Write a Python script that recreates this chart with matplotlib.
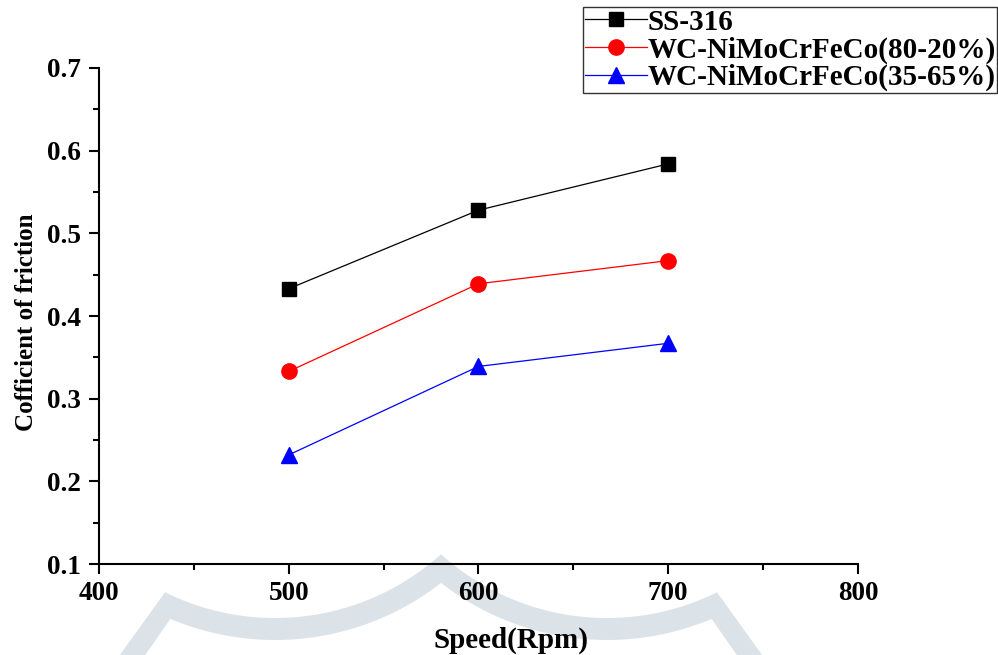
import matplotlib
matplotlib.use("Agg")
import matplotlib.pyplot as plt
import numpy as np
from matplotlib.ticker import MultipleLocator, FormatStrFormatter
from matplotlib.patches import Polygon

speed = [500, 600, 700]
ss316 = [0.433, 0.528, 0.584]
wc_80_20 = [0.333, 0.439, 0.467]
wc_35_65 = [0.232, 0.339, 0.367]
labels = ["SS-316", "WC-NiMoCrFeCo(80-20%)", "WC-NiMoCrFeCo(35-65%)"]

plt.rcParams['font.family'] = ['Liberation Serif', 'DejaVu Serif']
plt.rcParams['font.weight'] = 'bold'

W, H = 998, 655
fig = plt.figure(figsize=(W / 100, H / 100), dpi=100)

# --- decorative watermark (background, pixel coordinates overlay) ---
bg = fig.add_axes([0, 0, 1, 1], zorder=0)
bg.set_xlim(0, W)
bg.set_ylim(H, 0)
bg.axis('off')
wm_color = '#dce3e8'
axis_x, cy, r_top, r_bot, off = 441, 370, 248, 270, 166
for sgn in (-1, 1):
    cx = axis_x + sgn * off
    x_tip = axis_x + sgn * 276
    xs = np.linspace(x_tip, axis_x, 80)
    top = cy + np.sqrt(np.clip(r_top**2 - (xs - cx)**2, 0, None))
    bot = cy + np.sqrt(np.clip(r_bot**2 - (xs - cx)**2, 0, None))
    pts = np.vstack([np.column_stack([xs, top]), np.column_stack([xs[::-1], bot[::-1]])])
    bg.add_patch(Polygon(pts, closed=True, color=wm_color, lw=0))
    y_tip = top[0]
    y_in = bot[0]
    x_in = x_tip - sgn * 7
    x_out_bot = x_tip + sgn * 0.72 * (680 - y_tip)
    arm = [(x_tip, y_tip), (x_out_bot, 680), (x_out_bot - sgn * 26, 680),
           (x_in, y_in), (x_in, y_tip + 8)]
    bg.add_patch(Polygon(arm, closed=True, color=wm_color, lw=0))

ax = fig.add_axes([0.0992, 0.1389, 0.7605, 0.7573], zorder=1)
ax.patch.set_alpha(0)

ax.plot(speed, ss316, color='black', lw=0.9, marker='s', ms=10, label=labels[0])
ax.plot(speed, wc_80_20, color='red', lw=0.9, marker='o', ms=11, label=labels[1])
ax.plot(speed, wc_35_65, color='blue', lw=0.9, marker='^', ms=12, label=labels[2])

ax.set_xlim(400, 800)
ax.set_ylim(0.1, 0.7)
ax.xaxis.set_major_locator(MultipleLocator(100))
ax.xaxis.set_minor_locator(MultipleLocator(50))
ax.yaxis.set_major_locator(MultipleLocator(0.1))
ax.yaxis.set_minor_locator(MultipleLocator(0.05))
ax.yaxis.set_major_formatter(FormatStrFormatter('%.1f'))
for s in ['top', 'right']:
    ax.spines[s].set_visible(False)
for s in ['left', 'bottom']:
    ax.spines[s].set_linewidth(1.5)
ax.tick_params(which='major', direction='out', length=7, width=1.5, labelsize=19.5)
ax.tick_params(axis='x', which='major', pad=5)
ax.tick_params(axis='y', which='major', pad=6)
ax.tick_params(which='minor', direction='out', length=4, width=1.5)
for t in ax.get_xticklabels() + ax.get_yticklabels():
    t.set_fontweight('bold')

ax.set_xlabel("Speed(Rpm)", fontsize=21, fontweight='bold')
ax.xaxis.set_label_coords(0.543, -0.127)
ax.set_ylabel("Cofficient of friction", fontsize=18, fontweight='bold')
ax.yaxis.set_label_coords(-0.081, 0.488)

leg = fig.legend(loc='upper right', bbox_to_anchor=(0.999, 0.989), fontsize=21,
                 frameon=True, fancybox=False, edgecolor='black', handlelength=2.15,
                 handletextpad=0.0, borderpad=0.05, labelspacing=0.02, borderaxespad=0)
leg.get_frame().set_linewidth(1.0)
for t in leg.get_texts():
    t.set_fontweight('bold')

fig.savefig("out.png", dpi=100)
